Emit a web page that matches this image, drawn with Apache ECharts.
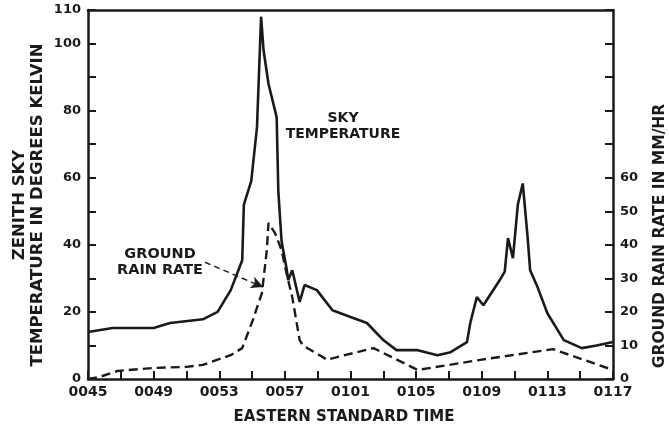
<!DOCTYPE html>
<html>
<head>
<meta charset="utf-8">
<script src="https://cdn.jsdelivr.net/npm/echarts@6/dist/echarts.min.js"></script>
<style>
html,body{margin:0;padding:0;background:#fff;}
#chart{width:669px;height:433px;}
</style>
</head>
<body>
<div id="chart"></div>
<script>
// Minutes after 0045 EST
var skyTime = [0, 1.5, 4.0, 5.0, 7.0, 7.9, 8.7, 9.4, 9.5, 9.95, 10.3, 10.55, 10.7, 11.0, 11.5, 11.6, 11.8, 12.1, 12.2, 12.45, 12.9, 13.2, 13.95, 14.9, 16.0, 17.0, 18.0, 18.8, 20.1, 21.3, 22.1, 23.1, 23.3, 23.7, 24.1, 25.1, 25.4, 25.6, 25.9, 26.2, 26.5, 26.8, 26.95, 27.4, 28.0, 29.0, 30.1, 31.0, 32];
var skyTemp = [14, 15.2, 15.2, 16.7, 17.8, 20, 26.5, 35.4, 52, 59, 75, 108, 98, 88, 78, 56, 41, 33, 29.5, 32.4, 23, 28, 26.5, 20.5, 18.5, 16.7, 11.6, 8.6, 8.6, 7.1, 8, 11, 16.7, 24.4, 22, 29.5, 32, 42, 36, 52, 58.3, 42, 32.4, 27.4, 19.6, 11.6, 9.2, 10, 11];
var rainTime = [0, 0.7, 1.8, 4.0, 6.0, 7.0, 8.7, 9.4, 10.05, 10.6, 10.9, 11.0, 11.4, 11.8, 12.1, 12.45, 12.9, 13.1, 14.6, 14.75, 17.4, 20.1, 23.9, 28.35, 29.4, 32];
var rainRate = [0, 0.6, 2.4, 3.3, 3.6, 4.2, 7.1, 9.2, 17.6, 25.6, 38.4, 46.5, 43.5, 38.4, 31.5, 24.4, 11.6, 10, 5.7, 6, 9.2, 2.7, 5.7, 8.9, 7.1, 2.7];
var xTickLabels = ['0045', '0049', '0053', '0057', '0101', '0105', '0109', '0113', '0117'];

function pairs(xs, ys) { return xs.map(function (x, i) { return [x, ys[i]]; }); }

var FONT = 'DejaVu Sans';
var INK = '#1a1a1a';
var chart = echarts.init(document.getElementById('chart'), null, {renderer: 'canvas'});
chart.setOption({
  backgroundColor: '#ffffff',
  animation: false,
  grid: {left: 88, right: 56, top: 10, bottom: 54},
  xAxis: [{
    type: 'value', min: 0, max: 32, interval: 2,
    axisLine: {show: true, onZero: false, lineStyle: {color: INK, width: 2.5}},
    axisTick: {show: true, inside: true, length: 8, lineStyle: {color: INK, width: 2}},
    splitLine: {show: false},
    axisLabel: {
      margin: 6, color: INK, fontFamily: FONT, fontWeight: 'bold', fontSize: 14,
      formatter: function (v) { return v % 4 === 0 ? xTickLabels[v / 4] : ''; }
    }
  }, {
    type: 'value', position: 'top', min: 0, max: 32,
    axisLine: {show: true, onZero: false, lineStyle: {color: INK, width: 2.5}},
    axisTick: {show: false}, axisLabel: {show: false}, splitLine: {show: false}
  }],
  yAxis: [{
    type: 'value', min: 0, max: 110, interval: 10, position: 'left',
    axisLine: {show: true, onZero: false, lineStyle: {color: INK, width: 2.5}},
    axisTick: {show: true, inside: true, length: 8, lineStyle: {color: INK, width: 2}},
    splitLine: {show: false},
    axisLabel: {
      margin: 7, color: INK, fontFamily: FONT, fontWeight: 'bold', fontSize: 13,
      formatter: function (v) { return (v % 20 === 0 || v === 110) ? String(v) : ''; }
    }
  }, {
    type: 'value', min: 0, max: 110, interval: 10, position: 'right',
    axisLine: {show: true, onZero: false, lineStyle: {color: INK, width: 2.5}},
    axisTick: {show: true, inside: true, length: 8, lineStyle: {color: INK, width: 2}},
    splitLine: {show: false},
    axisLabel: {
      margin: 7, color: INK, fontFamily: FONT, fontWeight: 'bold', fontSize: 13,
      formatter: function (v) { return v <= 60 ? String(v) : ''; }
    }
  }],
  series: [{
    name: 'SKY TEMPERATURE', type: 'line', xAxisIndex: 0, yAxisIndex: 0,
    data: pairs(skyTime, skyTemp), showSymbol: false, symbol: 'none',
    lineStyle: {color: INK, width: 2.6, type: 'solid'}
  }, {
    name: 'GROUND RAIN RATE', type: 'line', xAxisIndex: 0, yAxisIndex: 1,
    data: pairs(rainTime, rainRate), showSymbol: false, symbol: 'none',
    lineStyle: {color: INK, width: 2.4, type: [9, 5]},
    markLine: {
      silent: true, symbol: ['none', 'arrow'], symbolSize: [9, 12],
      label: {show: false},
      lineStyle: {color: INK, width: 1.4, type: [6, 4]},
      data: [[{coord: [7.13, 34.8]}, {coord: [10.67, 27.4]}]]
    }
  }],
  graphic: [
    {type: 'text', x: 343, y: 126, silent: true,
     style: {text: 'SKY\nTEMPERATURE', fill: INK, font: 'bold 14px "DejaVu Sans"', align: 'center', verticalAlign: 'middle', lineHeight: 16}},
    {type: 'text', x: 160, y: 262, silent: true,
     style: {text: 'GROUND\nRAIN RATE', fill: INK, font: 'bold 14.5px "DejaVu Sans"', align: 'center', verticalAlign: 'middle', lineHeight: 16}},
    {type: 'text', x: 344, y: 417, silent: true,
     style: {text: 'EASTERN STANDARD TIME', fill: INK, font: 'bold 15px "DejaVu Sans"', align: 'center', verticalAlign: 'middle'}},
    {type: 'text', x: 29, y: 205, rotation: Math.PI / 2, silent: true,
     style: {text: 'ZENITH SKY\nTEMPERATURE IN DEGREES KELVIN', fill: INK, font: 'bold 16.5px "DejaVu Sans"', align: 'center', verticalAlign: 'middle', lineHeight: 18}},
    {type: 'text', x: 660, y: 236, rotation: Math.PI / 2, silent: true,
     style: {text: 'GROUND RAIN RATE IN MM/HR', fill: INK, font: 'bold 15.5px "DejaVu Sans"', align: 'center', verticalAlign: 'middle'}}
  ]
});
</script>
</body>
</html>
